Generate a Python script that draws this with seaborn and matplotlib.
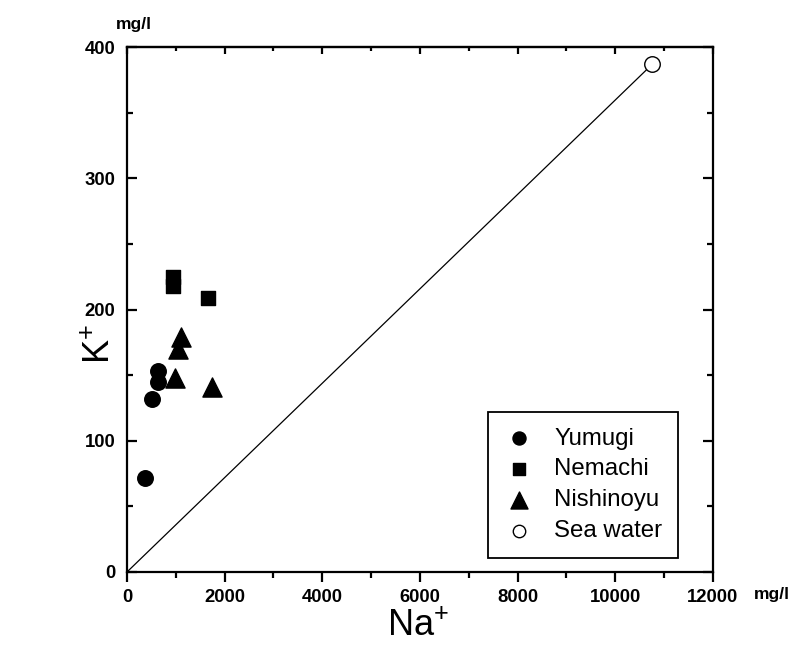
import matplotlib
matplotlib.use("Agg")
import matplotlib.pyplot as plt
import seaborn as sns
import pandas as pd
from matplotlib.ticker import MultipleLocator

# ---- data ----
yumugi_na = [370, 520, 630, 630]
yumugi_k = [72, 132, 145, 153]
nemachi_na = [950, 950, 1650]
nemachi_k = [225, 218, 209]
nishinoyu_na = [1110, 1050, 985, 1735]
nishinoyu_k = [179, 170, 148, 141]
seawater_na = [10760]
seawater_k = [387]

groups = ["Yumugi", "Nemachi", "Nishinoyu", "Sea water"]
x_ticks = [0, 2000, 4000, 6000, 8000, 10000, 12000]
y_ticks = [0, 100, 200, 300, 400]

sns.set_style("white")
plt.rcParams['font.family'] = ['Liberation Sans', 'DejaVu Sans']
plt.rcParams['mathtext.fontset'] = 'custom'
plt.rcParams['mathtext.rm'] = 'Liberation Sans'
plt.rcParams['text.color'] = 'black'
plt.rcParams['axes.labelcolor'] = 'black'
plt.rcParams['xtick.color'] = 'black'
plt.rcParams['ytick.color'] = 'black'

fig = plt.figure(figsize=(7.95, 6.71), dpi=100)
ax = fig.add_axes([127/795, 1 - 572/671, (713-127)/795, (572-47)/671])

frames = {
    "Yumugi": pd.DataFrame({"Na": yumugi_na, "K": yumugi_k}),
    "Nemachi": pd.DataFrame({"Na": nemachi_na, "K": nemachi_k}),
    "Nishinoyu": pd.DataFrame({"Na": nishinoyu_na, "K": nishinoyu_k}),
    "Sea water": pd.DataFrame({"Na": seawater_na, "K": seawater_k}),
}

# mixing line from origin to sea water
line_df = pd.DataFrame({"Na": [0, seawater_na[0]], "K": [0, seawater_k[0]]})
sns.lineplot(data=line_df, x="Na", y="K", ax=ax, color="black", linewidth=0.9, zorder=2)

styles = {
    "Yumugi": dict(marker="o", s=125, color="black", leg_s=88),
    "Nemachi": dict(marker="s", s=105, color="black", leg_s=64),
    "Nishinoyu": dict(marker="^", s=190, color="black", leg_s=150),
    "Sea water": dict(marker="o", s=125, color="white", leg_s=80),
}
for g in groups:
    st = styles[g]
    sns.scatterplot(data=frames[g], x="Na", y="K", ax=ax, marker=st["marker"], s=st["s"],
                    color=st["color"], edgecolor="black", linewidth=1.0,
                    label=g, zorder=3, clip_on=False)

ax.set_xlim(0, 12000)
ax.set_ylim(0, 400)
ax.set_xticks(x_ticks)
ax.set_yticks(y_ticks)
ax.xaxis.set_minor_locator(MultipleLocator(1000))
ax.yaxis.set_minor_locator(MultipleLocator(50))
ax.set_xticklabels([str(v) for v in x_ticks], fontsize=13.3, fontweight="bold")
ax.set_yticklabels([str(v) for v in y_ticks], fontsize=13.3, fontweight="bold")

for sp in ax.spines.values():
    sp.set_visible(True)
    sp.set_linewidth(1.6)
    sp.set_color("black")

ax.tick_params(axis="x", which="major", direction="out", length=7, width=1.6, bottom=True, top=False, pad=5.5)
ax.tick_params(axis="x", which="minor", direction="out", length=4, width=1.6, bottom=True, top=False)
ax.tick_params(axis="y", which="major", direction="in", length=7, width=1.6, left=True, right=True, pad=8.5)
ax.tick_params(axis="y", which="minor", direction="in", length=4, width=1.6, left=True, right=True)
sec = ax.secondary_xaxis("top")
sec.set_xticks(x_ticks)
sec.xaxis.set_minor_locator(MultipleLocator(1000))
sec.tick_params(which="major", direction="in", length=5, width=1.6, labeltop=False)
sec.tick_params(which="minor", direction="in", length=3, width=1.6, labeltop=False)
sec.spines["top"].set_linewidth(1.6)

ax.set_xlabel("")
ax.set_ylabel("")
fig.text(418/795, 1 - 626/671, r"Na$^{+}$", fontsize=26, ha="center", va="center")
fig.text(100/795, 1 - 344/671, r"K$^{+}$", fontsize=26, ha="center", va="center", rotation=90)
fig.text(134/795, 1 - 24/671, "mg/l", fontsize=12.5, fontweight="bold", ha="center", va="center")
fig.text(772/795, 1 - 594/671, "mg/l", fontsize=12.5, fontweight="bold", ha="center", va="center")

leg = ax.legend(loc="lower right", bbox_to_anchor=(0.940, 0.027), fontsize=17.3,
                frameon=True, fancybox=False, edgecolor="black", framealpha=1,
                labelspacing=0.37, handletextpad=0.85, borderpad=0.65, handlelength=1.25,
                borderaxespad=0)
leg.get_frame().set_linewidth(1.3)
for h, g in zip(leg.legend_handles, groups):
    try:
        h.set_sizes([styles[g]["leg_s"]])
    except Exception:
        pass

fig.savefig("out.png", dpi=100)
